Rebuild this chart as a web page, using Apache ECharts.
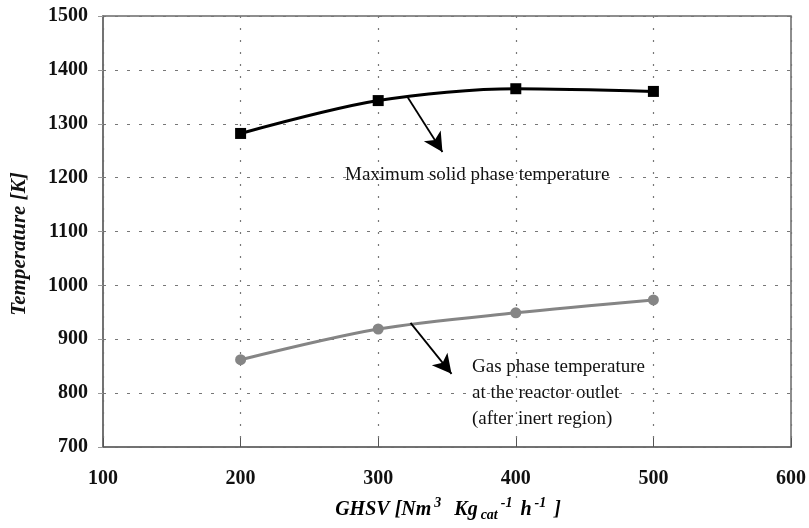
<!DOCTYPE html>
<html>
<head>
<meta charset="utf-8">
<script src="https://cdn.jsdelivr.net/npm/echarts@6/dist/echarts.min.js"></script>
<style>
html,body{margin:0;padding:0;background:#fff;}
#c{width:809px;height:528px;}
</style>
</head>
<body>
<div id="c"></div>
<script>
var ghsv = [200, 300, 400, 500];
var solidTemp = [1282, 1343, 1365, 1360];
var gasTemp = [862, 919, 949, 973];
var xTicks = [100, 200, 300, 400, 500, 600];
var yTicks = [700, 800, 900, 1000, 1100, 1200, 1300, 1400, 1500];

var serif = '"Liberation Serif","Times New Roman",serif';
var chart = echarts.init(document.getElementById('c'));

function pairs(xs, ys){ return xs.map(function(x,i){ return [x, ys[i]]; }); }

chart.setOption({
  animation: false,
  backgroundColor: '#fff',
  grid: {left: 103, right: 18, top: 16, bottom: 81, show: true, borderColor: '#6a6a6a', borderWidth: 1.5},
  xAxis: {
    type: 'value', min: xTicks[0], max: xTicks[xTicks.length-1], interval: 100,
    axisLine: {show: true, lineStyle: {color: '#6a6a6a', width: 1.5}},
    axisTick: {show: true, inside: true, length: 9, lineStyle: {color: '#555'}},
    axisLabel: {fontFamily: serif, fontWeight: 'bold', fontSize: 20, color: '#111', margin: 22,
      formatter: function(v){ return String(v); }},
    splitLine: {show: true, lineStyle: {color: '#777', type: [2, 10], width: 1.2}}
  },
  yAxis: {
    type: 'value', min: yTicks[0], max: yTicks[yTicks.length-1], interval: 100,
    axisLine: {show: true, lineStyle: {color: '#6a6a6a', width: 1.5}},
    axisTick: {show: true, length: 5, lineStyle: {color: '#999'}},
    axisLabel: {fontFamily: serif, fontWeight: 'bold', fontSize: 20, color: '#111', margin: 15,
      formatter: function(v){ return String(v); }},
    splitLine: {show: true, lineStyle: {color: '#777', type: [3, 9], width: 1.2}}
  },
  series: [
    {
      type: 'line', data: pairs(ghsv, solidTemp), smooth: 0.3,
      symbol: 'rect', symbolSize: 11,
      itemStyle: {color: '#000'}, lineStyle: {color: '#000', width: 3},
      markLine: {
        silent: true, symbol: ['none', 'arrow'], symbolSize: [15, 19],
        lineStyle: {color: '#000', width: 1.8, type: 'solid'}, label: {show: false},
        data: [[{coord: [321.3, 1349.7]}, {coord: [346.7, 1247.7]}]]
      }
    },
    {
      type: 'line', data: pairs(ghsv, gasTemp), smooth: 0.3,
      symbol: 'circle', symbolSize: 11,
      itemStyle: {color: '#858585'}, lineStyle: {color: '#858585', width: 3},
      markLine: {
        silent: true, symbol: ['none', 'arrow'], symbolSize: [15, 19],
        lineStyle: {color: '#000', width: 1.8, type: 'solid'}, label: {show: false},
        data: [[{coord: [323.5, 930.4]}, {coord: [353.3, 835.8]}]]
      }
    }
  ],
  graphic: [
    {type: 'text', x: 345, y: 175, style: {text: 'Maximum solid phase temperature', font: '19px ' + serif, fill: '#111', verticalAlign: 'middle'}},
    {type: 'text', x: 472, y: 354, style: {text: 'Gas phase temperature\nat the reactor outlet\n(after inert region)', font: '19px ' + serif, fill: '#111', lineHeight: 26}},
    {type: 'text', x: 20, y: 244, rotation: Math.PI/2,
      style: {text: 'Temperature [K]', font: 'italic bold 21px ' + serif, fill: '#111', align: 'center', verticalAlign: 'middle'}},
    {type: 'text', x: 448, y: 510,
      style: {
        text: '{a|GHSV [Nm}{sup|3}{a|  Kg}{sub|cat}{sup|-1}{a| h}{sup|-1}{a| ]}',
        align: 'center', verticalAlign: 'middle',
        rich: {
          a: {font: 'italic bold 20px ' + serif, color: '#111'},
          sup: {font: 'italic bold 14px ' + serif, color: '#111', padding: [0, 3, 13, 3]},
          sub: {font: 'italic bold 14px ' + serif, color: '#111', padding: [11, 0, 0, 3]}
        }
      }
    }
  ]
});
</script>
</body>
</html>
